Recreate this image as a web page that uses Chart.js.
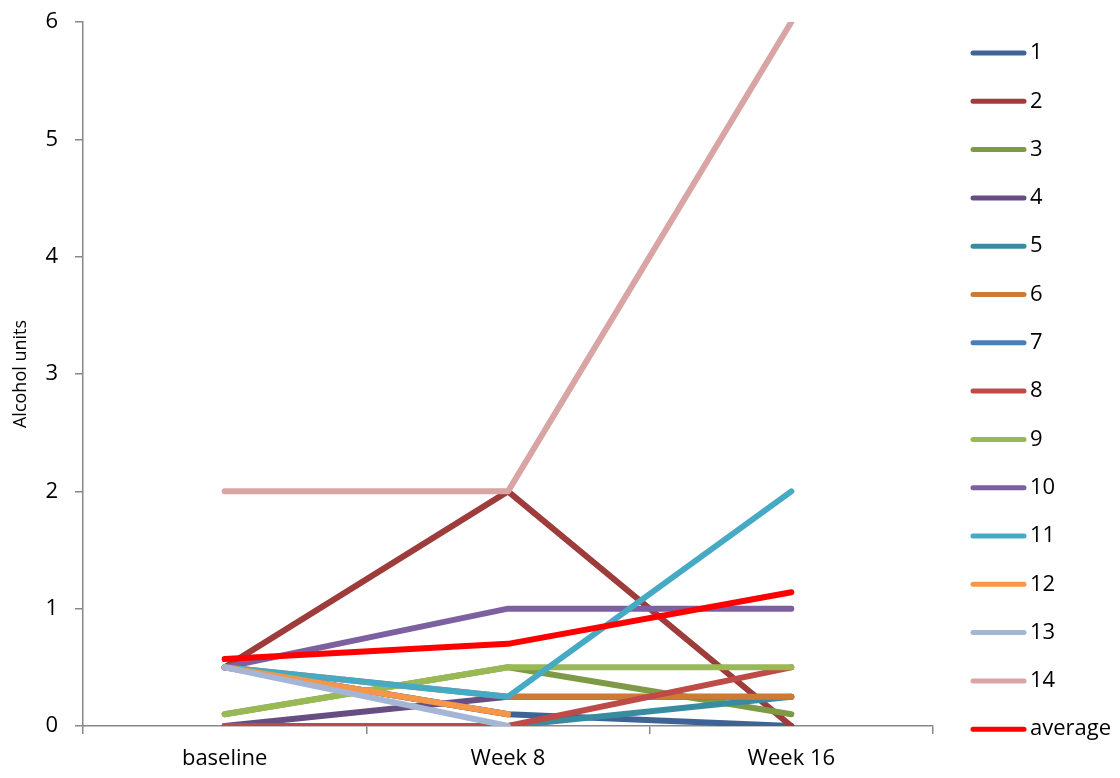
<!DOCTYPE html>
<html>
<head>
<meta charset="utf-8">
<title>Alcohol units</title>
<script src="https://cdn.jsdelivr.net/npm/chart.js@4"></script>
<style>
	body { margin: 0; background: #fff; }
	#wrap { width: 1120px; height: 778px; }
</style>
</head>
<body>
<div id="wrap"><canvas id="myChart"></canvas></div>
<script>
// Data
const visits = ["baseline", "Week 8", "Week 16"];
const yTicks = [0, 1, 2, 3, 4, 5, 6];

const s1 = [0.5, 0.1, 0];
const s2 = [0.5, 2, 0];
const s3 = [0.1, 0.5, 0.1];
const s4 = [0, 0.25, 0.25];
const s5 = [0, 0, 0.25];
const s6 = [0.5, 0.25, 0.25];
const s7 = [0.5, 0.1, null];
const s8 = [0, 0, 0.5];
const s9 = [0.1, 0.5, 0.5];
const s10 = [0.5, 1, 1];
const s11 = [0.5, 0.25, 2];
const s12 = [0.5, 0.1, null];
const s13 = [0.5, 0, null];
const s14 = [2, 2, 6];
const average = [0.57, 0.7, 1.14];

const seriesNames = ["1", "2", "3", "4", "5", "6", "7", "8", "9", "10", "11", "12", "13", "14", "average"];
const seriesData = [s1, s2, s3, s4, s5, s6, s7, s8, s9, s10, s11, s12, s13, s14, average];
const colors = [
	"#3E6497", "#9D3C3A", "#7E9A47", "#664E82", "#398C9F",
	"#CC7A35", "#4A7EBB", "#BE4B48", "#98B954", "#7D60A0",
	"#46AAC5", "#F79646", "#A5B5D5", "#D8A5A4", "#FF0000"
];

const FONT = "'Open Sans', sans-serif";
const AXIS = "#888888";

// legend on the right, drawn by hand for Excel-like spacing
const sideLegend = {
	id: "sideLegend",
	afterDraw(chart) {
		const c = chart.ctx;
		c.save();
		c.font = "22px " + FONT;
		c.textBaseline = "middle";
		c.fillStyle = "#000";
		c.lineCap = "round";
		c.lineWidth = 5;
		chart.data.datasets.forEach((ds, i) => {
			const y = 53 + i * 48.3;
			c.strokeStyle = ds.borderColor;
			c.beginPath();
			c.moveTo(973, y);
			c.lineTo(1024, y);
			c.stroke();
			c.fillText(ds.label, 1030, y);
		});
		c.restore();
	}
};

const ctx = document.getElementById("myChart").getContext("2d");
const myChart = new Chart(ctx, {
	type: "line",
	data: {
		labels: visits,
		datasets: seriesData.map((d, i) => ({
			label: seriesNames[i],
			data: d,
			// later series are painted over earlier ones
			order: seriesData.length - i,
			borderColor: colors[i],
			backgroundColor: colors[i],
			borderWidth: 6,
			borderCapStyle: "round",
			borderJoinStyle: "round",
			pointRadius: 0,
			tension: 0,
			fill: false,
		})),
	},
	options: {
		responsive: true,
		maintainAspectRatio: false,
		animation: false,
		layout: { padding: { top: 22, right: 187, left: 0, bottom: 0 } },
		plugins: {
			legend: { display: false },
			tooltip: { enabled: false },
		},
		scales: {
			x: {
				offset: true,
				grid: { offset: true, drawOnChartArea: false, tickLength: 8, color: AXIS, lineWidth: 1.5 },
				border: { color: AXIS, width: 1.5 },
				ticks: { color: "#000", padding: 12, font: { family: FONT, size: 22 } },
				afterFit: (s) => { s.height = 52; s.paddingLeft = 0; s.paddingRight = 0; },
			},
			y: {
				min: yTicks[0],
				max: yTicks[yTicks.length - 1],
				afterBuildTicks: (s) => { s.ticks = yTicks.map(v => ({ value: v })); },
				grid: { drawOnChartArea: false, tickLength: 8, color: AXIS, lineWidth: 1.5 },
				border: { color: AXIS, width: 1.5 },
				ticks: { color: "#000", padding: 17, font: { family: FONT, size: 22 } },
				title: {
					display: true,
					text: "Alcohol units",
					color: "#000",
					padding: { top: 10, bottom: 0 },
					font: { family: FONT, size: 18 },
				},
				afterFit: (s) => { s.width = 83; s.paddingTop = 0; s.paddingBottom = 0; },
			},
		},
	},
	plugins: [sideLegend],
});
</script>
</body>
</html>
